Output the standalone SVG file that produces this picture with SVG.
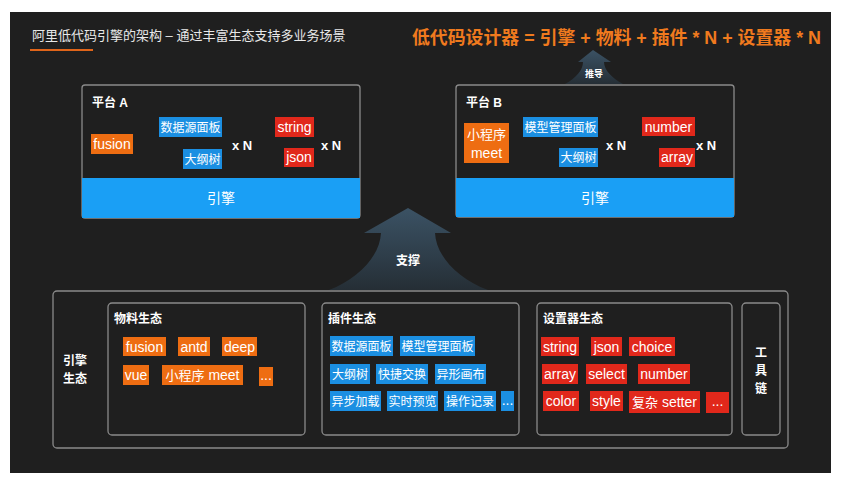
<svg xmlns="http://www.w3.org/2000/svg" width="843" height="486" viewBox="0 0 843 486">
<defs>
<linearGradient id="arrowGrad" x1="0" y1="0" x2="0" y2="1">
<stop offset="0" stop-color="#3b5264"/>
<stop offset="0.6" stop-color="#2e3d49"/>
<stop offset="1" stop-color="#252e35"/>
</linearGradient>
<style>
text{font-family:"Liberation Sans","Noto Sans CJK SC",sans-serif;fill:#ffffff}
.frame{fill:none;stroke:#8a8a8a;stroke-width:1.3}
.band{fill:#1a9ff5}
.o{fill:#ee6d12}
.b{fill:#1b8fe2}
.r{fill:#e1281b}
.tag{font-size:14px;text-anchor:middle}
.cj{font-size:12px;text-anchor:middle}
.lbl{font-size:12px;font-weight:bold}
.xn{font-size:13px;font-weight:bold}
</style>
</defs>
<rect x="0" y="0" width="843" height="486" fill="#ffffff"/>
<rect x="10" y="12" width="821" height="461" fill="#1f1f1f"/>

<g id="title">
<text x="32" y="40" font-size="13" style="fill:#e8e8e8">阿里低代码引擎的架构 – 通过丰富生态支持多业务场景</text>
<rect x="30" y="49" width="63" height="2" fill="#e0651a"/>
</g>
<g id="formula">
<text x="412" y="44" font-size="18" font-weight="bold" style="fill:#f07a1e" textLength="409" lengthAdjust="spacingAndGlyphs">低代码设计器 = 引擎 + 物料 + 插件 * N + 设置器 * N</text>
</g>

<g id="connectors">
<g id="arrow-tuidao">
<path d="M593,50 L611,62 L604,62 C604,70 612,78 623,84 L565,84 C576,78 583,70 583,62 L578,62 Z" fill="url(#arrowGrad)"/>
<text x="594" y="77" font-size="9" font-weight="bold" text-anchor="middle">推导</text>
</g>
<g id="arrow-zhicheng">
<path d="M408,208 L451,233 L435,233 C436,256 458,279 488,290 L329,290 C358,279 380,256 381,233 L364,233 Z" fill="url(#arrowGrad)"/>
<text x="408" y="265" font-size="12" font-weight="bold" text-anchor="middle">支撑</text>
</g>
</g>

<g id="platformA">
<rect class="frame" x="82" y="85" width="278" height="133" rx="3"/>
<rect class="band" x="82" y="178" width="278" height="40"/>
<text x="221" y="203" font-size="14" text-anchor="middle">引擎</text>
<text class="lbl" x="92" y="107">平台 A</text>
<rect class="o" x="91" y="134" width="42" height="20"/>
<text class="tag" x="112" y="149">fusion</text>
<rect class="b" x="159" y="117" width="63" height="20"/>
<text class="cj" x="190.5" y="131.5">数据源面板</text>
<rect class="b" x="183" y="149" width="39" height="20"/>
<text class="cj" x="202.5" y="163.5">大纲树</text>
<text class="xn" x="232" y="150">x N</text>
<rect class="r" x="275" y="117" width="39" height="20"/>
<text class="tag" x="294.5" y="132">string</text>
<rect class="r" x="284" y="148" width="30" height="19"/>
<text class="tag" x="299" y="162">json</text>
<text class="xn" x="321" y="150">x N</text>
</g>

<g id="platformB">
<rect class="frame" x="456" y="85" width="278" height="132" rx="3"/>
<rect class="band" x="456" y="178" width="278" height="39"/>
<text x="595" y="203" font-size="14" text-anchor="middle">引擎</text>
<text class="lbl" x="466" y="107">平台 B</text>
<rect class="o" x="464" y="123" width="45" height="40"/>
<text class="cj" x="486.5" y="139" style="font-size:13px">小程序</text>
<text class="tag" x="486.5" y="158">meet</text>
<rect class="b" x="523" y="117" width="75" height="20"/>
<text class="cj" x="560.5" y="131.5">模型管理面板</text>
<rect class="b" x="559" y="148" width="39" height="19"/>
<text class="cj" x="578.5" y="162">大纲树</text>
<text class="xn" x="606" y="150">x N</text>
<rect class="r" x="642" y="117" width="53" height="19"/>
<text class="tag" x="668.5" y="131.5">number</text>
<rect class="r" x="659" y="148" width="36" height="19"/>
<text class="tag" x="677" y="162">array</text>
<text class="xn" x="696" y="150">x N</text>
</g>

<g id="ecosystem">
<rect class="frame" x="53" y="291" width="735" height="157" rx="4"/>
<text class="lbl" x="75" y="365" text-anchor="middle">引擎</text>
<text class="lbl" x="75" y="383" text-anchor="middle">生态</text>
</g>

<g id="materials">
<rect class="frame" x="108" y="303" width="197" height="132" rx="4"/>
<text class="lbl" x="114" y="323">物料生态</text>
<rect class="o" x="123" y="337" width="43" height="19"/>
<text class="tag" x="144.5" y="351.5">fusion</text>
<rect class="o" x="178" y="337" width="32" height="19"/>
<text class="tag" x="194" y="351.5">antd</text>
<rect class="o" x="222" y="337" width="35" height="19"/>
<text class="tag" x="239.5" y="351.5">deep</text>
<rect class="o" x="123" y="365" width="26" height="20"/>
<text class="tag" x="136" y="379.5">vue</text>
<rect class="o" x="162" y="365" width="81" height="20"/>
<text class="tag" x="202.5" y="379.5"><tspan style="font-size:13px">小程序</tspan> meet</text>
<rect class="o" x="259" y="367" width="14" height="19"/>
<text class="tag" x="266" y="380">...</text>
</g>

<g id="plugins">
<rect class="frame" x="322" y="303" width="197" height="132" rx="4"/>
<text class="lbl" x="328" y="323">插件生态</text>
<rect class="b" x="330" y="336" width="63" height="20"/>
<text class="cj" x="361.5" y="350.5">数据源面板</text>
<rect class="b" x="400" y="336" width="75" height="20"/>
<text class="cj" x="437.5" y="350.5">模型管理面板</text>
<rect class="b" x="330" y="364" width="40" height="20"/>
<text class="cj" x="350" y="378.5">大纲树</text>
<rect class="b" x="376" y="364" width="52" height="20"/>
<text class="cj" x="402" y="378.5">快捷交换</text>
<rect class="b" x="435" y="364" width="51" height="20"/>
<text class="cj" x="460.5" y="378.5">异形画布</text>
<rect class="b" x="330" y="391" width="51" height="20"/>
<text class="cj" x="355.5" y="405.5">异步加载</text>
<rect class="b" x="387" y="391" width="51" height="20"/>
<text class="cj" x="412.5" y="405.5">实时预览</text>
<rect class="b" x="444" y="391" width="52" height="20"/>
<text class="cj" x="470" y="405.5">操作记录</text>
<rect class="b" x="501" y="391" width="13" height="20"/>
<text class="tag" x="507.5" y="405">...</text>
</g>

<g id="setters">
<rect class="frame" x="537" y="303" width="195" height="132" rx="4"/>
<text class="lbl" x="543" y="323">设置器生态</text>
<rect class="r" x="541" y="337" width="38" height="19"/>
<text class="tag" x="560" y="351.5">string</text>
<rect class="r" x="591" y="337" width="31" height="19"/>
<text class="tag" x="606.5" y="351.5">json</text>
<rect class="r" x="629" y="337" width="46" height="19"/>
<text class="tag" x="652" y="351.5">choice</text>
<rect class="r" x="542" y="364" width="36" height="20"/>
<text class="tag" x="560" y="378.5">array</text>
<rect class="r" x="586" y="364" width="41" height="20"/>
<text class="tag" x="606.5" y="378.5">select</text>
<rect class="r" x="638" y="364" width="52" height="20"/>
<text class="tag" x="664" y="378.5">number</text>
<rect class="r" x="543" y="391" width="36" height="20"/>
<text class="tag" x="561" y="405.5">color</text>
<rect class="r" x="590" y="391" width="33" height="20"/>
<text class="tag" x="606.5" y="405.5">style</text>
<rect class="r" x="629" y="391" width="71" height="22"/>
<text class="tag" x="664.5" y="407"><tspan style="font-size:13px">复杂</tspan> setter</text>
<rect class="r" x="706" y="392" width="23" height="21"/>
<text class="tag" x="717.5" y="406">...</text>
</g>

<g id="toolchain">
<rect class="frame" x="742" y="303" width="38" height="132" rx="4"/>
<text class="lbl" x="761" y="357" text-anchor="middle">工</text>
<text class="lbl" x="761" y="375" text-anchor="middle">具</text>
<text class="lbl" x="761" y="393" text-anchor="middle">链</text>
</g>
</svg>
